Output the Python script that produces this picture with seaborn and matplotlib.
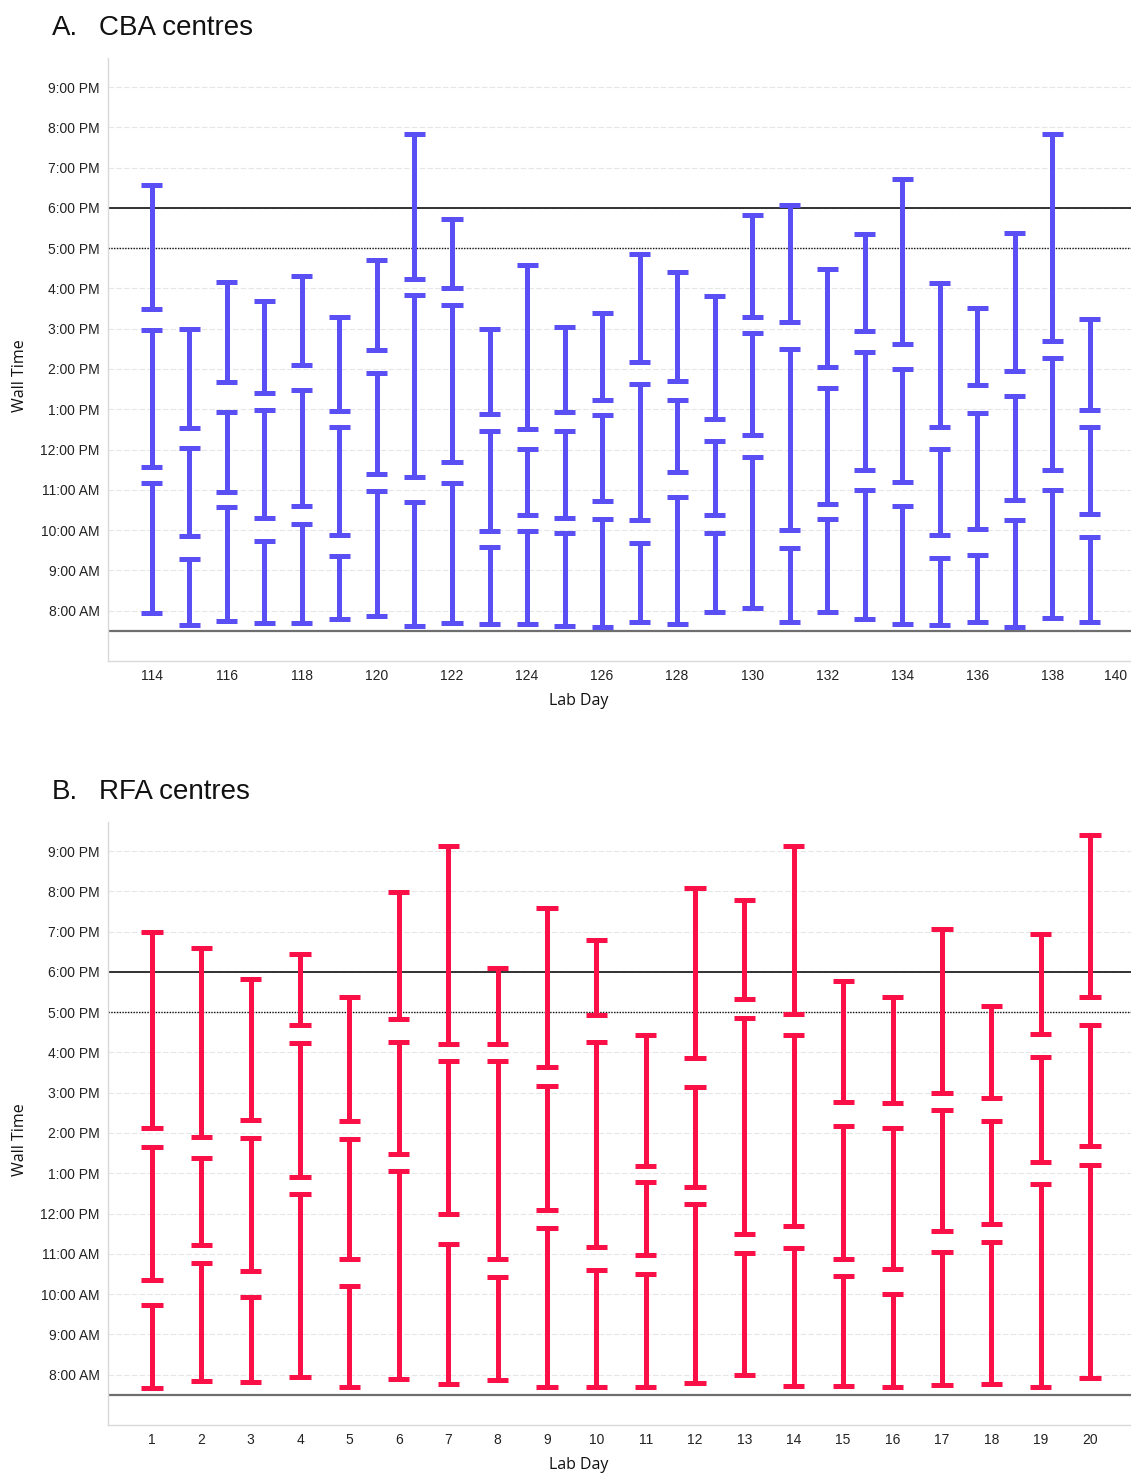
import numpy as np
import pandas as pd
import matplotlib
matplotlib.use("Agg")
import matplotlib.pyplot as plt
from matplotlib.ticker import FuncFormatter, FixedLocator
import seaborn as sns

# ---------------------------------------------------------------------------
# Session windows per lab day, in decimal hours of the day (8.5 = 8:30 AM)
# ---------------------------------------------------------------------------
cba_days = list(range(114, 140))
cba_am_start = [7.93, 7.65, 7.74, 7.69, 7.69, 7.79, 7.86, 7.61, 7.69, 7.68, 7.66, 7.63, 7.59,
                7.71, 7.68, 7.96, 8.07, 7.72, 7.97, 7.79, 7.68, 7.65, 7.71, 7.60, 7.82, 7.71]
cba_am_end = [11.16, 9.29, 10.57, 9.72, 10.15, 9.35, 10.96, 10.69, 11.16, 9.58, 9.97, 9.92, 10.28,
              9.68, 10.83, 9.94, 11.82, 9.55, 10.27, 10.99, 10.61, 9.31, 9.39, 10.26, 10.99, 9.82]
cba_mid_start = [11.57, 9.85, 10.95, 10.29, 10.60, 9.87, 11.39, 11.33, 11.69, 9.97, 10.37, 10.31, 10.72,
                 10.24, 11.44, 10.37, 12.37, 9.99, 10.66, 11.49, 11.19, 9.89, 10.02, 10.75, 11.50, 10.41]
cba_mid_end = [14.97, 12.05, 12.94, 12.97, 13.48, 12.57, 13.90, 15.84, 15.59, 12.45, 12.01, 12.45, 12.85,
               13.62, 13.23, 12.22, 14.90, 14.49, 13.53, 14.41, 14.00, 12.02, 12.91, 13.32, 14.28, 12.56]
cba_pm_start = [15.48, 12.53, 13.67, 13.40, 14.09, 12.96, 14.48, 16.24, 16.02, 12.89, 12.50, 12.94, 13.23,
                14.17, 13.71, 12.75, 15.29, 15.16, 14.06, 14.95, 14.61, 12.56, 13.59, 13.95, 14.70, 12.97]
cba_pm_end = [18.56, 14.99, 16.16, 15.69, 16.32, 15.30, 16.71, 19.83, 17.72, 14.99, 16.58, 15.04, 15.40,
              16.86, 16.40, 15.82, 17.83, 18.07, 16.49, 17.34, 18.72, 16.14, 15.51, 17.37, 19.84, 15.23]

rfa_days = list(range(1, 21))
rfa_am_start = [7.66, 7.83, 7.81, 7.94, 7.70, 7.88, 7.77, 7.86, 7.69, 7.70,
                7.69, 7.79, 7.98, 7.72, 7.72, 7.70, 7.74, 7.78, 7.70, 7.91]
rfa_am_end = [9.73, 10.76, 9.94, 12.48, 10.21, 13.05, 11.25, 10.42, 11.64, 10.60,
              10.50, 12.24, 11.02, 11.15, 10.45, 10.01, 11.04, 11.30, 12.73, 13.21]
rfa_mid_start = [10.36, 11.23, 10.57, 12.90, 10.88, 13.49, 12.00, 10.88, 12.09, 11.16,
                 10.98, 12.65, 11.49, 11.68, 10.86, 10.62, 11.56, 11.73, 13.28, 13.67]
rfa_mid_end = [13.64, 13.39, 13.87, 16.23, 13.85, 16.26, 15.78, 15.78, 15.16, 16.27,
               12.79, 15.13, 16.86, 16.42, 14.18, 14.13, 14.56, 14.30, 15.88, 16.68]
rfa_pm_start = [14.13, 13.90, 14.32, 16.69, 14.29, 16.83, 16.22, 16.22, 15.65, 16.93,
                13.18, 15.86, 17.33, 16.96, 14.76, 14.74, 15.00, 14.88, 16.46, 17.37]
rfa_pm_end = [18.99, 18.60, 17.82, 18.45, 17.37, 19.99, 21.12, 18.09, 19.58, 18.80,
              16.42, 20.08, 19.78, 21.12, 17.77, 17.37, 19.07, 17.14, 18.93, 21.40]

hour_ticks = list(range(8, 22))
cba_xticks = list(range(114, 141, 2))
rfa_xticks = rfa_days

CBA_COLOR = "#5a4ff4"
RFA_COLOR = "#fb0f47"


def long_form(days, windows):
    """Two rows (open and close time) per session window and day."""
    rows = []
    for session, (opens, closes) in enumerate(windows):
        for d, a, b in zip(days, opens, closes):
            rows.append((d, session, a))
            rows.append((d, session, b))
    return pd.DataFrame(rows, columns=["day", "session", "hour"])


def clock_label(h, _pos=None):
    h = int(round(h))
    suffix = "AM" if h < 12 else "PM"
    h12 = h % 12
    if h12 == 0:
        h12 = 12
    return f"{h12}:00 {suffix}"


def span(v):
    return (v.min(), v.max())


sns.set_theme(style="white")
plt.rcParams["font.family"] = ["Liberation Sans", "DejaVu Sans"]

fig = plt.figure(figsize=(11.31, 14.74), dpi=100)
W, H = 1131, 1474


def add_axes(top_px, bottom_px):
    return fig.add_axes([108 / W, 1 - bottom_px / H, (W - 108) / W, (bottom_px - top_px) / H])


def draw_panel(ax, df, color, capsize, xlim, xticks):
    for _, sub in df.groupby("session"):
        sns.pointplot(
            data=sub, x="day", y="hour", native_scale=True,
            estimator="mean", errorbar=span, capsize=capsize,
            color=color, linestyle="none", marker="",
            err_kws={"linewidth": 3.6, "solid_capstyle": "butt"},
            ax=ax,
        )
    ax.set_xlim(*xlim)
    ax.set_ylim(6.75, 21.72)

    ax.yaxis.set_major_locator(FixedLocator(hour_ticks))
    ax.yaxis.set_major_formatter(FuncFormatter(clock_label))
    ax.xaxis.set_major_locator(FixedLocator(xticks))
    ax.xaxis.set_major_formatter(FuncFormatter(lambda v, p: f"{int(round(v))}"))
    ax.tick_params(axis="both", length=0, labelsize=10, colors="#222222")
    ax.tick_params(axis="y", pad=6)
    ax.tick_params(axis="x", pad=6)

    ax.grid(axis="y", color="#e6e6e6", linewidth=0.8, linestyle=(0, (5, 2)))
    ax.grid(axis="x", visible=False)
    ax.set_axisbelow(True)

    # reference lines: 6 PM, 5 PM and 7:30 AM
    ax.axhline(18, color="#111111", linewidth=1.2, zorder=1)
    ax.axhline(17, color="#111111", linewidth=1.0, linestyle=(0, (1, 1)), zorder=1)
    ax.axhline(7.5, color="#6e6e6e", linewidth=1.6, zorder=1)

    for side in ("top", "right"):
        ax.spines[side].set_visible(False)
    for side in ("left", "bottom"):
        ax.spines[side].set_color("#d9d9d9")
        ax.spines[side].set_linewidth(1.0)

    ax.set_xlabel("Lab Day", fontsize=11.5, family=["Open Sans", "DejaVu Sans"], color="#111111")
    ax.set_ylabel("Wall Time", fontsize=11.5, family=["Open Sans", "DejaVu Sans"], color="#111111")
    ax.xaxis.set_label_coords(0.46, -0.053)
    ax.yaxis.set_label_coords(-0.078, 0.474)


cba = long_form(cba_days, [(cba_am_start, cba_am_end),
                           (cba_mid_start, cba_mid_end),
                           (cba_pm_start, cba_pm_end)])
rfa = long_form(rfa_days, [(rfa_am_start, rfa_am_end),
                           (rfa_mid_start, rfa_mid_end),
                           (rfa_pm_start, rfa_pm_end)])

ax_a = add_axes(58, 661)
draw_panel(ax_a, cba, CBA_COLOR, 0.56, (112.83, 140.1), cba_xticks)
last = ax_a.get_xticklabels()[-1]
last.set_horizontalalignment("right")

ax_b = add_axes(822, 1425)
draw_panel(ax_b, rfa, RFA_COLOR, 0.43, (0.11, 20.83), rfa_xticks)

# panel headings: letter and name
for letter, name, base in (("A.", "CBA centres", 35), ("B.", "RFA centres", 799)):
    fig.text(52 / W, 1 - base / H, letter, fontsize=20, va="baseline", ha="left", color="#111111")
    fig.text(99 / W, 1 - base / H, name, fontsize=20, va="baseline", ha="left", color="#111111")

fig.savefig("out.png", dpi=100)
